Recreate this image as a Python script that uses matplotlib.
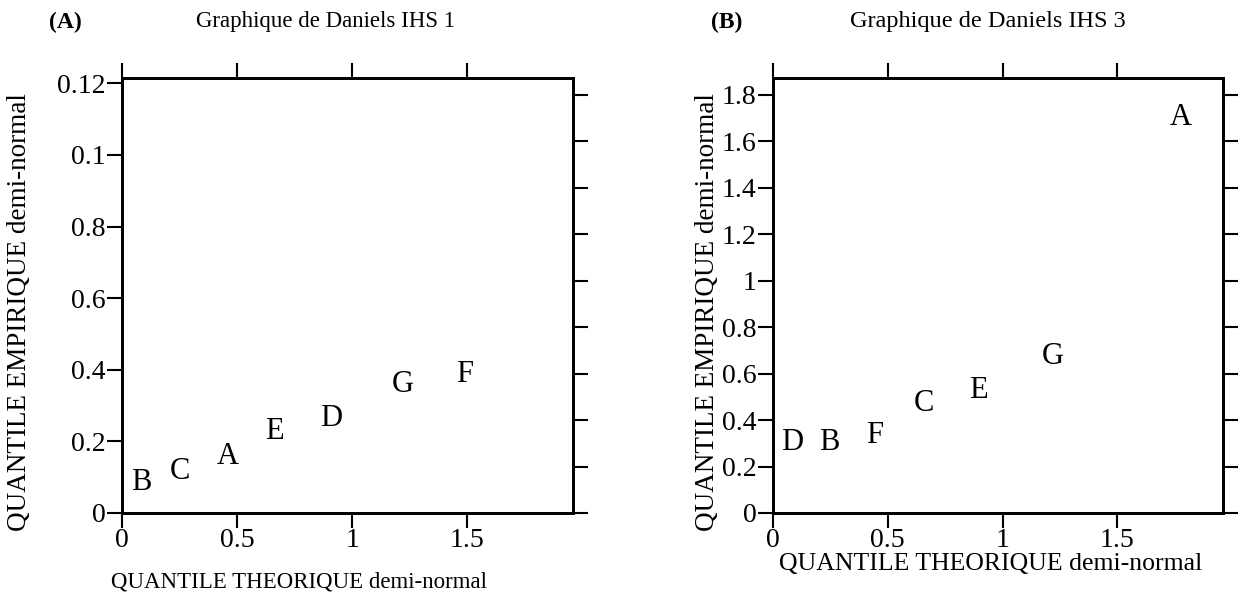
import numpy as np
import matplotlib.pyplot as plt

plt.rcParams['font.family'] = ['Liberation Serif', 'DejaVu Serif']

# Panel A : Daniels plot, IHS 1
labels_a = ['B', 'C', 'A', 'E', 'D', 'G', 'F']
theo_a = [0.083, 0.25, 0.46, 0.664, 0.91, 1.22, 1.49]
emp_a = [0.084, 0.117, 0.159, 0.229, 0.263, 0.36, 0.388]
yticks_a = [0, 0.2, 0.4, 0.6, 0.8, 1.0, 1.2]
yticklabels_a = ['0', '0.2', '0.4', '0.6', '0.8', '0.1', '0.12']
ymax_a = 1.215

# Panel B : Daniels plot, IHS 3
labels_b = ['D', 'B', 'F', 'C', 'E', 'G', 'A']
theo_b = [0.083, 0.243, 0.443, 0.657, 0.896, 1.217, 1.778]
emp_b = [0.305, 0.305, 0.335, 0.473, 0.529, 0.671, 1.703]
yticks_b = [0, 0.2, 0.4, 0.6, 0.8, 1.0, 1.2, 1.4, 1.6, 1.8]
yticklabels_b = ['0', '0.2', '0.4', '0.6', '0.8', '1', '1.2', '1.4', '1.6', '1.8']
ymax_b = 1.871

xticks = [0, 0.5, 1, 1.5]
xticklabels = ['0', '0.5', '1', '1.5']
xmax = 1.96
# unlabelled ticks on the right border (same for both panels)
right_ticks = [0, 0.2, 0.4, 0.6, 0.8, 1.0, 1.2, 1.4, 1.6, 1.8]
right_max = 1.871

W, H = 1240, 599
fig = plt.figure(figsize=(W / 100, H / 100), dpi=100)
fig.patch.set_facecolor('white')

tick_len = 10.8
tick_w = 1.5
spine_w = 2.0


def panel(rect, x, y, labels, yticks, yticklabels, ymax):
    ax = fig.add_axes(rect)
    for t, xx, yy in zip(labels, x, y):
        ax.text(xx, yy, t, ha='center', va='center', fontsize=22)
    ax.set_xlim(0, xmax)
    ax.set_ylim(0, ymax)
    ax.set_xticks(xticks)
    ax.set_xticklabels(xticklabels)
    ax.set_yticks(yticks)
    ax.set_yticklabels(yticklabels)
    ax.tick_params(axis='x', top=True, bottom=True, direction='out',
                   length=tick_len, width=tick_w, labelsize=20, pad=0)
    ax.tick_params(axis='y', left=True, right=False, direction='out',
                   length=tick_len, width=tick_w, labelsize=20, pad=1)
    for s in ax.spines.values():
        s.set_linewidth(spine_w)
    ax2 = ax.twinx()
    ax2.set_ylim(0, right_max)
    ax2.set_yticks(right_ticks)
    ax2.set_yticklabels([])
    ax2.tick_params(axis='y', direction='out', length=tick_len, width=tick_w)
    for s in ax2.spines.values():
        s.set_linewidth(spine_w)
    return ax


def box(x0, x1):
    return [x0 / W, 1 - 513 / H, (x1 - x0) / W, (513 - 78) / H]


panel(box(122, 573), theo_a, emp_a, labels_a, yticks_a, yticklabels_a, ymax_a)
panel(box(773, 1223), theo_b, emp_b, labels_b, yticks_b, yticklabels_b, ymax_b)

# titles
fig.text(65 / W, 1 - 22 / H, '(A)', ha='center', va='center', fontsize=17, fontweight='bold')
fig.text(325 / W, 1 - 22 / H, 'Graphique de Daniels IHS 1', ha='center', va='center', fontsize=16.5)
fig.text(727 / W, 1 - 22 / H, '(B)', ha='center', va='center', fontsize=17, fontweight='bold')
fig.text(988 / W, 1 - 22 / H, 'Graphique de Daniels IHS 3', ha='center', va='center', fontsize=17.5)

# axis labels
fig.text(299 / W, 1 - 582 / H, 'QUANTILE THEORIQUE demi-normal', ha='center', va='center', fontsize=16.5)
fig.text(991 / W, 1 - 564 / H, 'QUANTILE THEORIQUE demi-normal', ha='center', va='center', fontsize=18.5)
fig.text(20 / W, 1 - 312 / H, 'QUANTILE EMPIRIQUE demi-normal', ha='center', va='center',
         rotation=90, fontsize=19.5)
fig.text(707 / W, 1 - 312 / H, 'QUANTILE EMPIRIQUE demi-normal', ha='center', va='center',
         rotation=90, fontsize=19.5)

fig.savefig('out.png', dpi=100)
